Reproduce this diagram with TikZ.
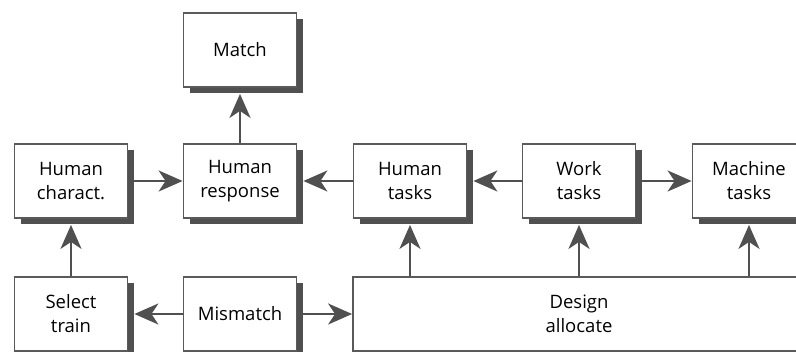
\documentclass[tikz,border=0pt]{standalone}
\usepackage{fontspec}
\setmainfont{Open Sans}
\usetikzlibrary{arrows.meta,shadows}
\definecolor{gc}{HTML}{505050}
\definecolor{bc}{HTML}{5A5A5A}
\tikzset{
  box/.style={draw=bc, line width=1.8pt, fill=white, align=center, inner sep=0pt,
    minimum width=113pt, minimum height=74pt,
    font=\fontsize{18.5pt}{24pt}\selectfont,
    general shadow={shadow xshift=6pt, shadow yshift=-6pt, fill=gc}},
  arr/.style={draw=gc, line width=2.4pt, -{Stealth[length=24pt,width=21pt,inset=7pt]}}
}
\begin{document}
\begin{tikzpicture}[x=1pt,y=-1pt]
\useasboundingbox (0,0) rectangle (796,352);
\clip (0,0) rectangle (796,352);
\node[box] (match) at (240,50) {Match};
\node[box] (hchar) at (71,181) {Human\\charact.};
\node[box] (hresp) at (240,181) {Human\\response};
\node[box] (htask) at (410,181) {Human\\tasks};
\node[box] (wtask) at (579,181) {Work\\tasks};
\node[box] (mtask) at (749,181) {Machine\\tasks};
\node[box] (select) at (71,314) {Select\\train};
\node[box] (mis) at (240,314) {Mismatch};
\node[box, minimum width=452pt, text depth=0pt] (design) at (579,314) {Design\\allocate};
\draw[arr] (hresp.north) -- ([yshift=-6pt]match.south);
\draw[arr] ([xshift=6pt]hchar.east) -- (hresp.west);
\draw[arr] (htask.west) -- ([xshift=6pt]hresp.east);
\draw[arr] (wtask.west) -- ([xshift=6pt]htask.east);
\draw[arr] ([xshift=6pt]wtask.east) -- (mtask.west);
\draw[arr] (select.north) -- ([yshift=-6pt]hchar.south);
\draw[arr] (mis.west) -- ([xshift=6pt]select.east);
\draw[arr] ([xshift=6pt]mis.east) -- (design.west);
\draw[arr] (design.north -| htask.south) -- ([yshift=-6pt]htask.south);
\draw[arr] (design.north -| wtask.south) -- ([yshift=-6pt]wtask.south);
\draw[arr] (design.north -| mtask.south) -- ([yshift=-6pt]mtask.south);
\end{tikzpicture}
\end{document}
